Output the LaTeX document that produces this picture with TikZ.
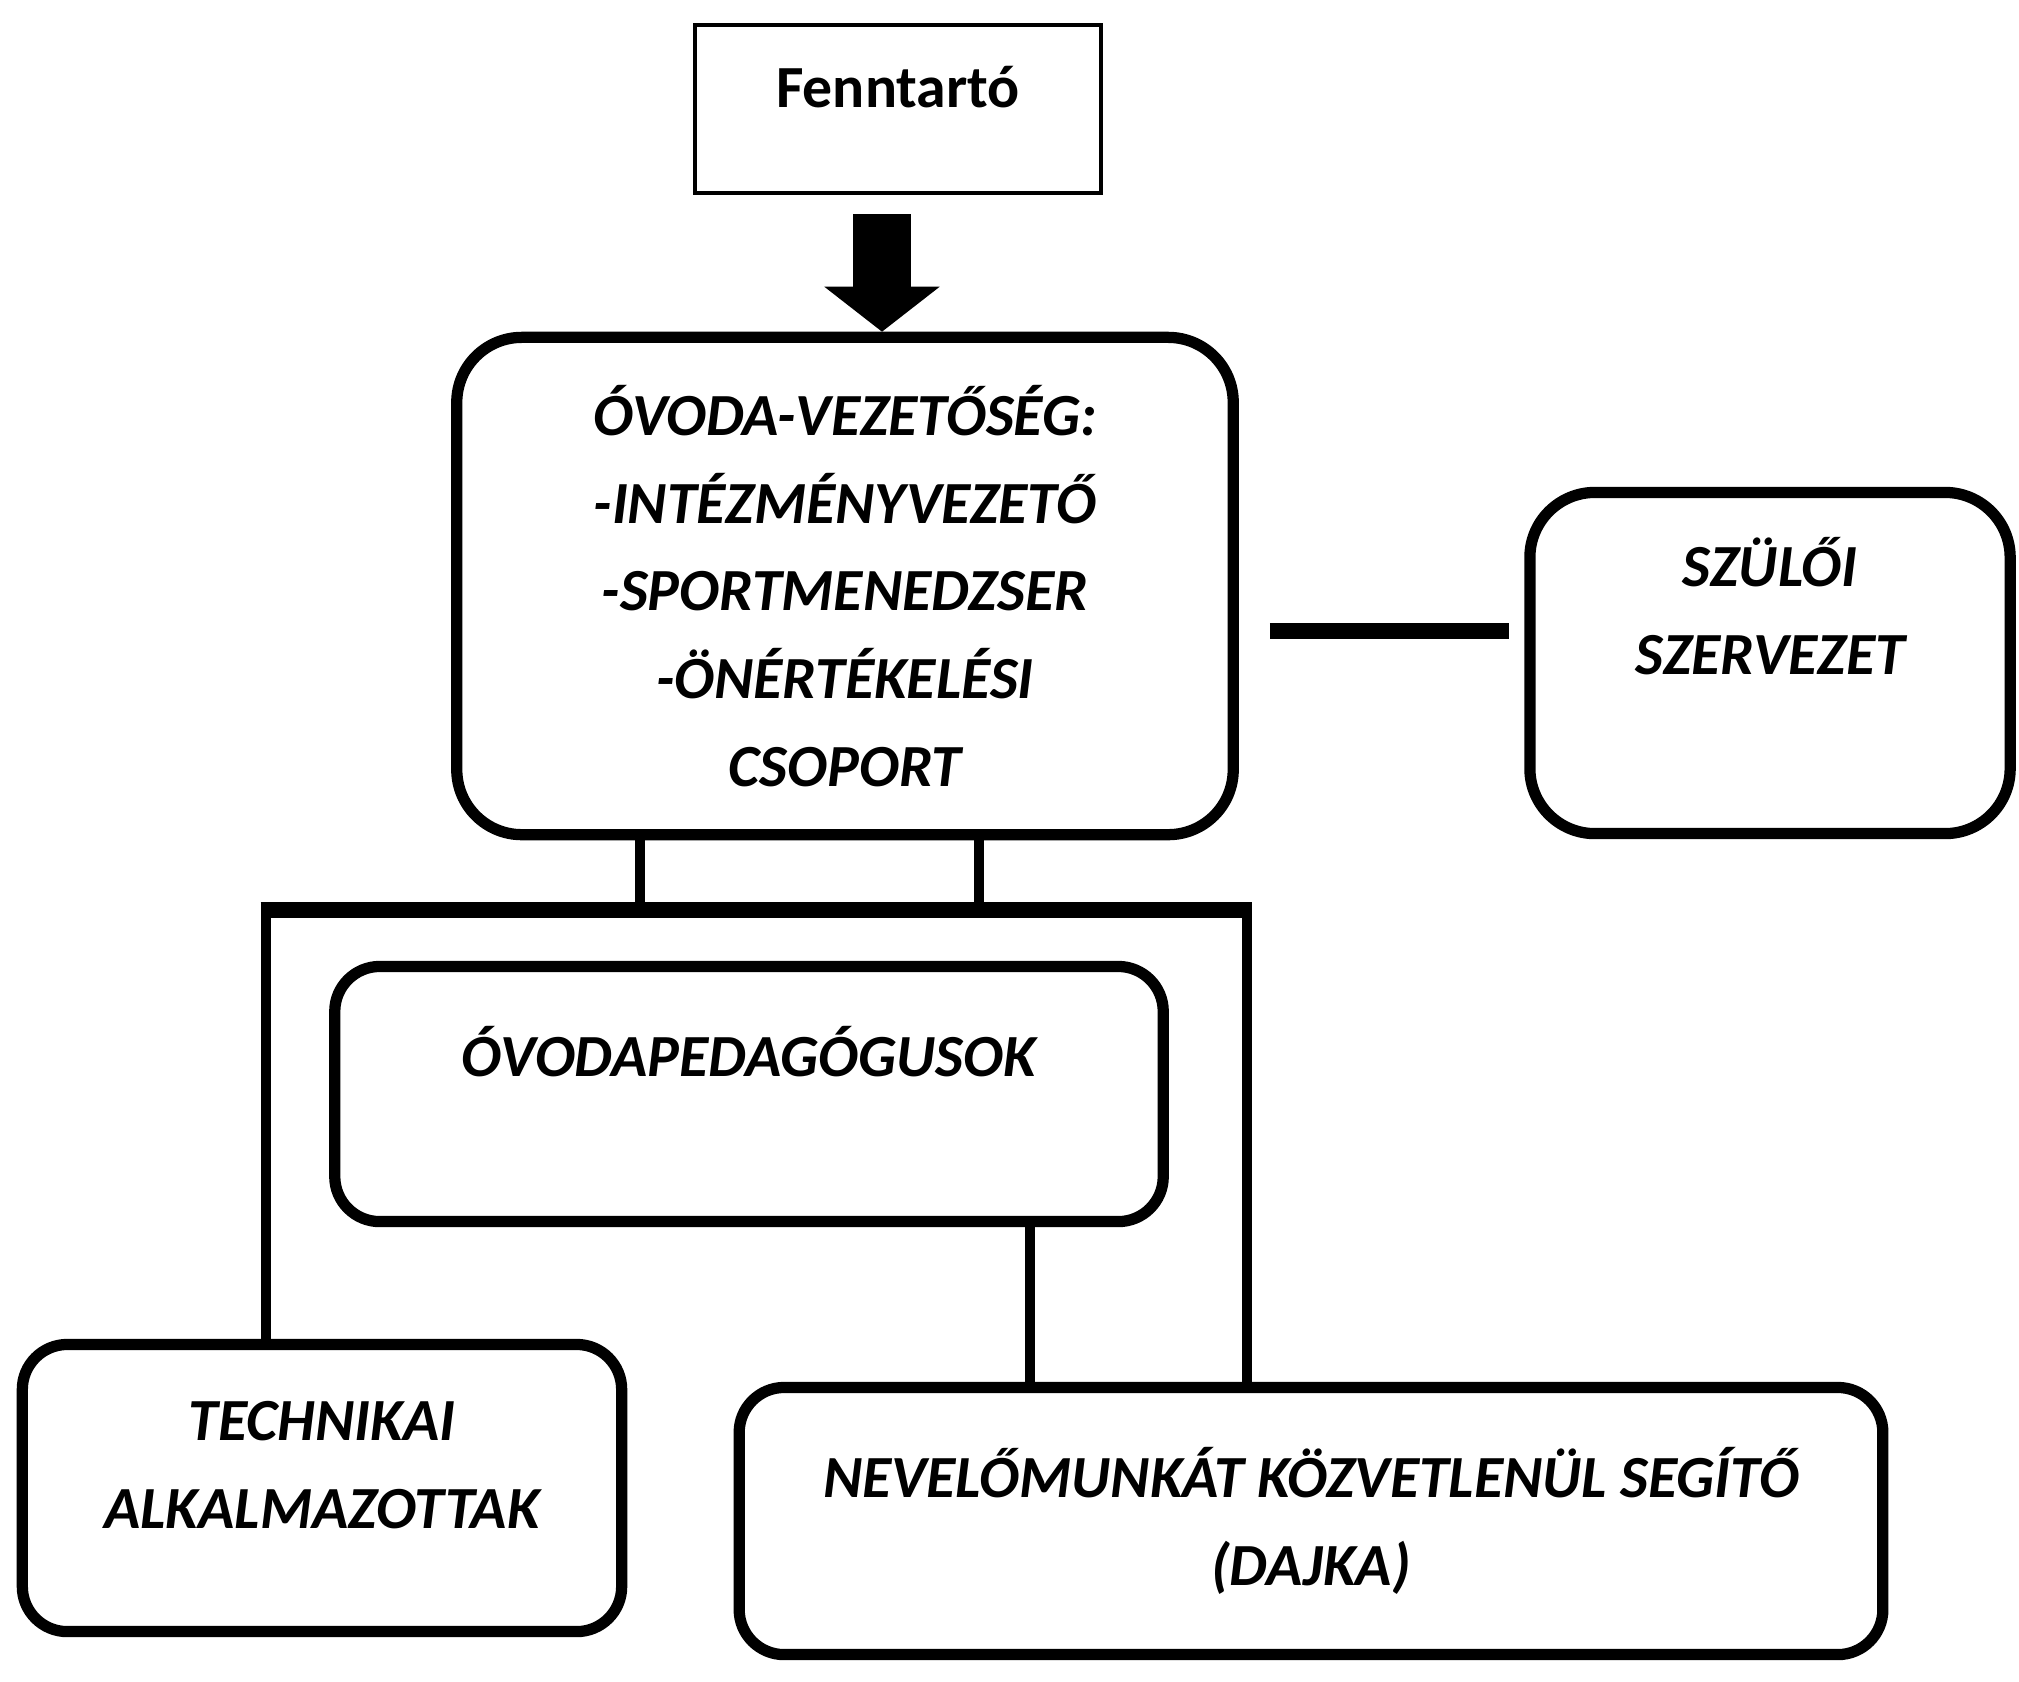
\documentclass[tikz,border=0pt]{standalone}
\usepackage{fontspec}
\setmainfont{Carlito}
\usetikzlibrary{arrows.meta}
\begin{document}
\begin{tikzpicture}[x=0.01cm, y=-0.01cm,
    unit/.style={draw, line width=3.2pt, rounded corners=0.45cm, align=center,
      font=\fontsize{17}{25}\selectfont\bfseries\itshape},
    link/.style={line width=3pt},
    bar/.style={line width=4.5pt}]
      \useasboundingbox (0,0) rectangle (2019,1681);
      \node[draw, line width=1.1pt, minimum width=4.06cm, minimum height=1.68cm, text depth=0.45cm,
        font=\fontsize{17}{25}\selectfont\bfseries] (fenn) at (898,109) {Fenntartó};
      \node[unit, rounded corners=0.65cm, minimum width=7.76cm, minimum height=4.97cm] (main) at (845,586)
        {ÓVODA-VEZETŐSÉG:\\-INTÉZMÉNYVEZETŐ\\-SPORTMENEDZSER\\-ÖNÉRTÉKELÉSI\\CSOPORT};
      \node[unit, rounded corners=0.65cm, minimum width=4.8cm, minimum height=3.41cm] (szul) at (1770,663)
        {SZÜLŐI\\SZERVEZET\\[0.26cm]\mbox{}};
      \node[unit, minimum width=8.28cm, minimum height=2.55cm, text depth=0.85cm] (ovp) at (749,1094)
        {ÓVODAPEDAGÓGUSOK};
      \node[unit, minimum width=5.99cm, minimum height=2.87cm] (tech) at (322,1488)
        {TECHNIKAI\\ALKALMAZOTTAK\\[-0.42cm]\mbox{}};
      \node[unit, minimum width=11.43cm, minimum height=2.67cm] (nev) at (1311,1521)
        {NEVELŐMUNKÁT KÖZVETLENÜL SEGÍTŐ\\(DAJKA)};
      \coordinate (barL) at (266,910);
      \coordinate (barR) at (1247,910);
      \coordinate (stubA) at (640,910);
      \coordinate (stubB) at (979,910);
      \coordinate (szlink) at (1390,631);
      \coordinate (ovpnev) at (1030,1300);
      \coordinate (push) at (882,270);
      \draw[line width=0.58cm, shorten <=0.19cm, -{Triangle[length=0.45cm, width=1.13cm]}]
        (push |- fenn.south) -- (push |- main.north);
      \draw[bar, shorten <=0.31cm, shorten >=0.15cm] (main.east |- szlink) -- (szul.west |- szlink);
      \draw[link] (stubA |- main.south) -- (stubA);
      \draw[link] (stubB |- main.south) -- (stubB);
      \draw[bar] ([xshift=-1.5pt]barL) -- ([xshift=1.5pt]barR);
      \draw[link] (barL) -- (barL |- tech.north);
      \draw[link] (barR) -- (barR |- nev.north);
      \draw[link] (ovpnev |- ovp.south) -- (ovpnev |- nev.north);
\end{tikzpicture}
\end{document}
